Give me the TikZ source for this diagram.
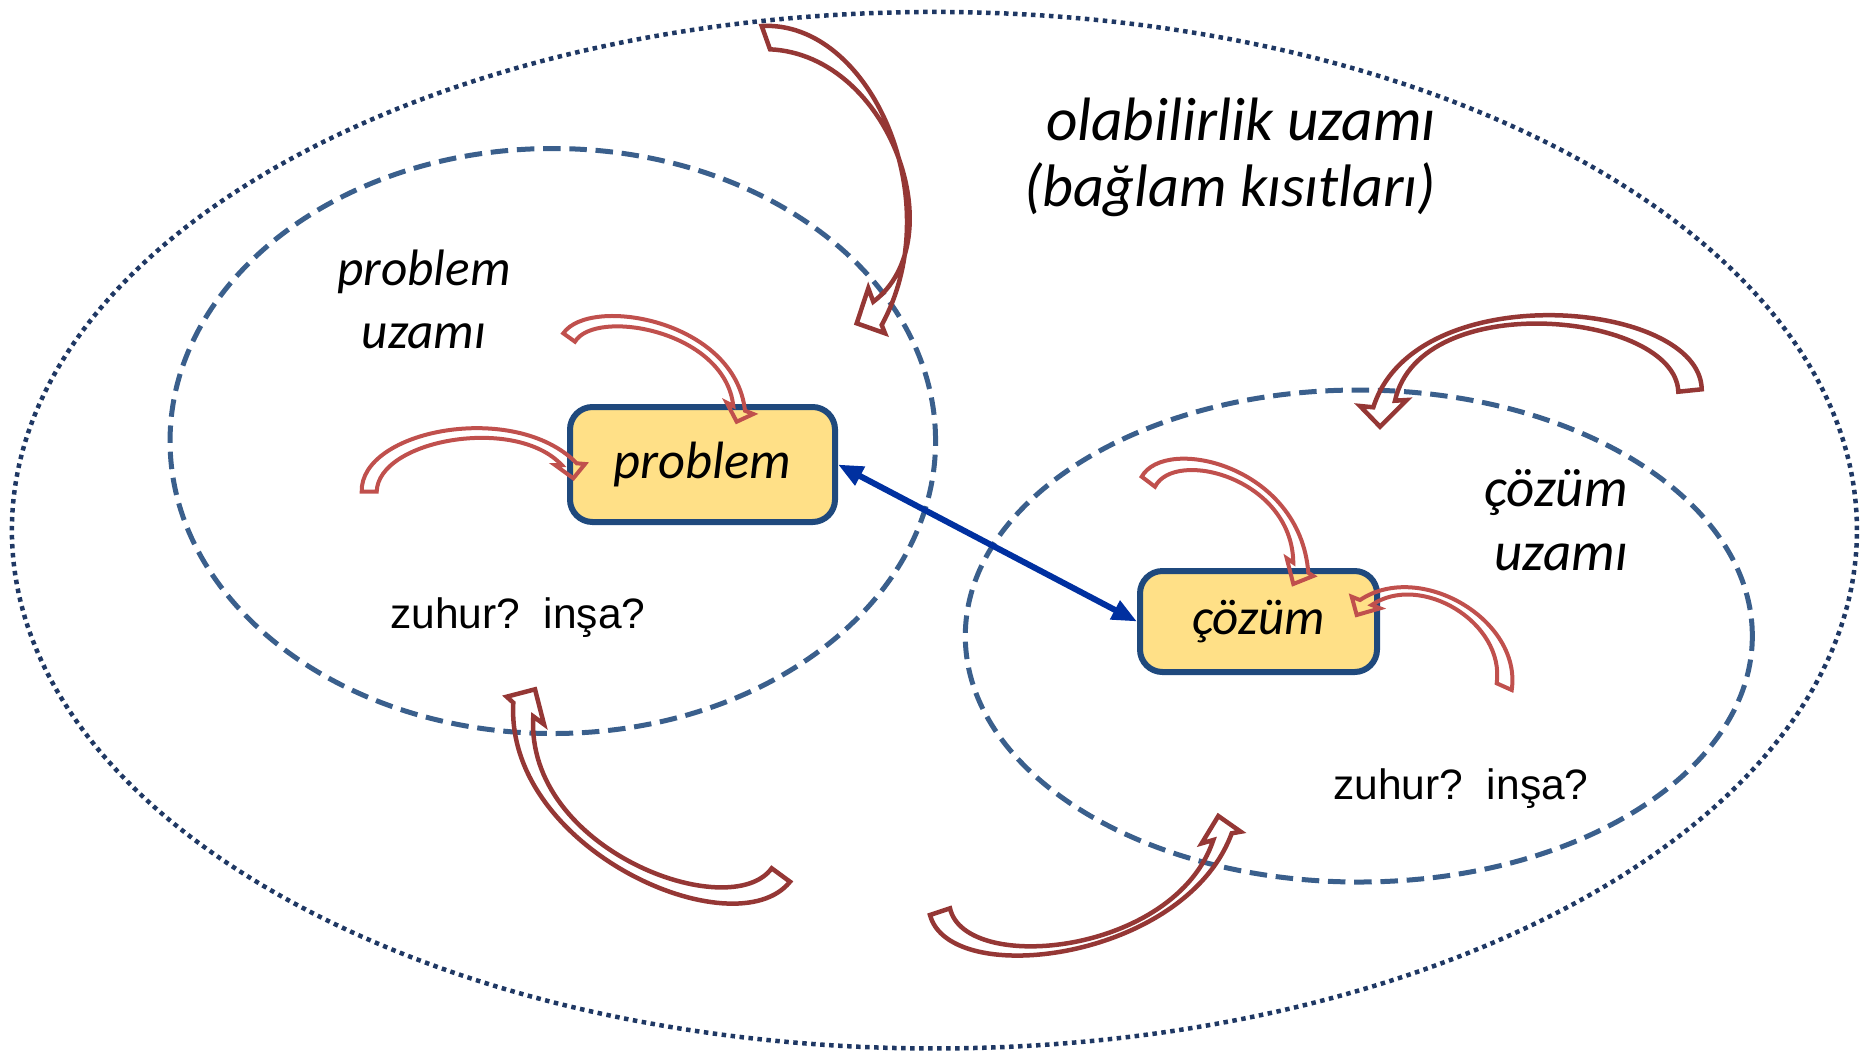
\documentclass[tikz,border=0pt]{standalone}
\usepackage{fontspec}
\setmainfont{Carlito}
\newfontfamily\arialf{Liberation Sans}
\usetikzlibrary{arrows.meta}
\definecolor{darkred}{RGB}{149,55,53}
\definecolor{lightred}{RGB}{192,80,77}
\definecolor{dashblue}{RGB}{58,95,140}
\definecolor{navy}{RGB}{31,56,100}
\definecolor{boxfill}{RGB}{255,224,135}
\definecolor{boxline}{RGB}{31,73,125}
\definecolor{arrblue}{RGB}{0,48,160}
\begin{document}
\begin{tikzpicture}[x=0.4pt,y=-0.4pt,
  bigarrow/.style={draw=darkred,line width=1.8pt,line join=miter},
  smallarrow/.style={draw=lightred,line width=1.6pt,line join=miter},
  spaceline/.style={draw=dashblue,line width=2pt,dash pattern=on 7pt off 3.5pt},
  outerline/.style={draw=navy,line width=1.8pt,dash pattern=on 1.8pt off 1.8pt},
  box/.style={draw=boxline,fill=boxfill,line width=2.4pt,rounded corners=9pt,inner sep=0pt},
  lbl/.style={inner sep=0pt,anchor=base},
  qlbl/.style={font=\arialf\fontsize{17}{20}\selectfont,inner sep=0pt,anchor=base}]
\useasboundingbox (0,0) rectangle (1864,1054);
% spaces
\draw[outerline] (934.4,530.2) ellipse [x radius=369pt, y radius=207.3pt];
\draw[spaceline] (552.8,441) ellipse [x radius=153.1pt, y radius=117pt];
\draw[spaceline] (1358.8,636) ellipse [x radius=157.4pt, y radius=98.4pt];
% boxes
\node[box,minimum width=106pt,minimum height=46pt,font=\fontsize{21}{25}\selectfont\itshape] (problem) at (702.5,464.5) {problem};
\node[box,minimum width=94.8pt,minimum height=40.4pt,font=\fontsize{20.4}{24}\selectfont\itshape] (cozum) at (1258.5,621.5) {çözüm};
\draw[arrblue,line width=2.4pt,{Triangle[length=10pt,width=8pt]}-{Triangle[length=10pt,width=8pt]}] (problem.east) -- (cozum.west);
% curved block arrows
\draw[bigarrow] (761.7,26) .. controls (870,20) and (950,200) .. (881.7,325) -- (885,333.3) -- (856.7,323.3) -- (868.3,288.3) -- (873.3,301.7) .. controls (955,240) and (890,55) .. (770,49.3) -- cycle;
\draw[smallarrow] (563.3,333.3) .. controls (590,295) and (735,320) .. (745,410.7) -- (753.3,414) -- (736.7,421.7) -- (726.7,402.7) -- (733.3,406) .. controls (725,330) and (595,308) .. (575,341.7) -- cycle;
\draw[smallarrow] (361.7,491.7) .. controls (360,430) and (515,400) .. (576.7,463.3) -- (585,464) -- (573.3,478.3) -- (555,465) -- (561.7,465) .. controls (515,415) and (378,440) .. (376.7,491.7) -- cycle;
\draw[smallarrow] (1141.7,476.7) .. controls (1165,435) and (1300,465) .. (1308.3,572.7) -- (1313.3,576) -- (1293.3,584) -- (1286.7,558.3) -- (1293.3,562.7) .. controls (1292,478) and (1175,448) .. (1155,486.7) -- cycle;
\draw[smallarrow] (1511.7,690) .. controls (1522,620) and (1420,560) .. (1360,600) -- (1351.7,596.7) -- (1356.7,615) -- (1380,608.3) -- (1371.7,605) .. controls (1420,572) and (1505,622) .. (1496.7,683.3) -- cycle;
\draw[bigarrow] (1701.7,389.3) .. controls (1700,300) and (1415,275) .. (1373.3,407.3) -- (1360,406) -- (1380,426.7) -- (1406.7,400) -- (1395,400.7) .. controls (1420,287) and (1675,312) .. (1678.3,391.7) -- cycle;
\draw[bigarrow] (790,881.7) .. controls (735,950) and (505,850) .. (513.3,702.7) -- (506.7,696.7) -- (535,689.3) -- (544,724.3) -- (533.3,716.4) .. controls (525,850) and (730,925) .. (771.7,868.3) -- cycle;
\draw[bigarrow] (930,915) .. controls (950,990) and (1185,960) .. (1231.7,833.3) -- (1240.7,831.7) -- (1218.3,816) -- (1201.7,843.3) -- (1213.3,840) .. controls (1175,955) and (965,975) .. (950,908.3) -- cycle;
% labels
\node[lbl,font=\fontsize{24.5}{28}\selectfont\itshape] (ctxA) at (1241,140) {olabilirlik uzamı};
\node[lbl,font=\fontsize{24}{28}\selectfont\itshape] (ctxB) at (1230,206) {(bağlam kısıtları)};
\node[lbl,font=\fontsize{20.5}{24}\selectfont\itshape] (psA) at (424,285) {problem};
\node[lbl,font=\fontsize{20.5}{24}\selectfont\itshape] (psB) at (424,348) {uzamı};
\node[lbl,font=\fontsize{22}{26}\selectfont\itshape] (csA) at (1556,506.7) {çözüm};
\node[lbl,font=\fontsize{22}{26}\selectfont\itshape] (csB) at (1561,570) {uzamı};
\node[qlbl] (qA) at (518,628) {zuhur?\ \ inşa?};
\node[qlbl] (qB) at (1461,799) {zuhur?\ \ inşa?};
\end{tikzpicture}
\end{document}
